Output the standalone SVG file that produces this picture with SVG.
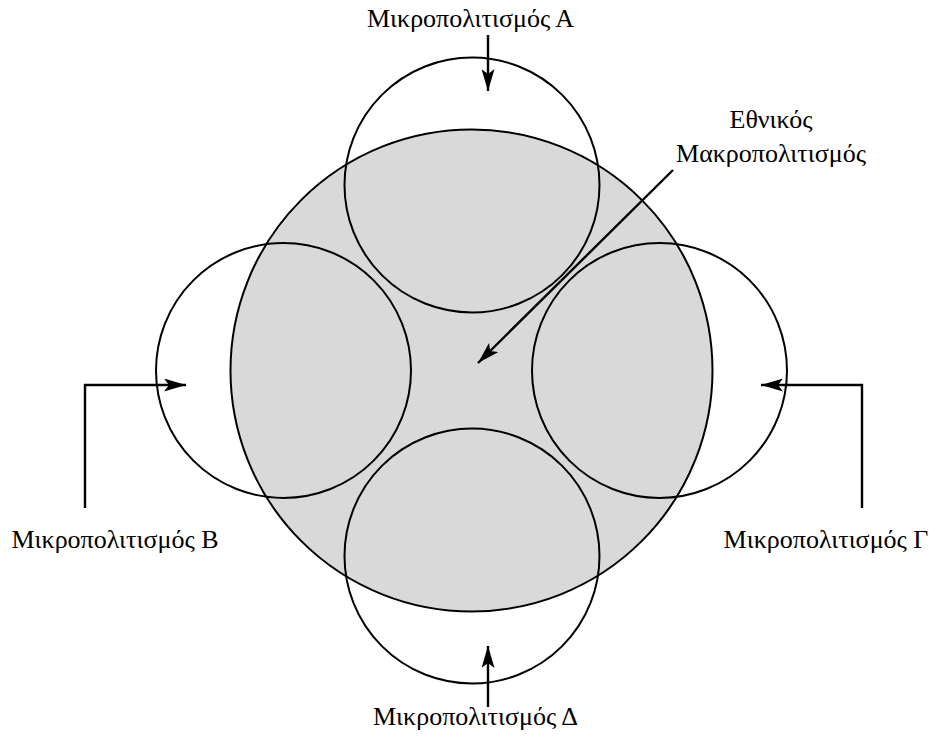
<svg xmlns="http://www.w3.org/2000/svg" width="936" height="738" viewBox="0 0 936 738">
<defs>
<marker id="ah" markerUnits="userSpaceOnUse" markerWidth="22" markerHeight="13" viewBox="0 0 22 13" refX="22" refY="6.5" orient="auto">
<path d="M0,0 L22,6.5 L0,13 L5,6.5 Z" fill="#000"/>
</marker>
</defs>
<style>
.c{fill:none;stroke:#000;stroke-width:2}
.big{fill:#d9d9d9;stroke:#000;stroke-width:2}
.a{fill:none;stroke:#000;stroke-width:2.4;marker-end:url(#ah)}
text{font-family:"Liberation Serif","Times New Roman",serif;font-size:26px;fill:#000;text-anchor:middle}
</style>
<g id="national">
<circle class="big" cx="471.5" cy="370.5" r="241"/>
</g>
<g id="microA"><circle class="c" cx="472" cy="185" r="127.5"/></g>
<g id="microB"><circle class="c" cx="283.5" cy="370.5" r="127.5"/></g>
<g id="microG"><circle class="c" cx="659.5" cy="370.5" r="127.5"/></g>
<g id="microD"><circle class="c" cx="472" cy="556" r="127.5"/></g>
<g id="connectors">
<path class="a" d="M488,35 L488,91"/>
<path class="a" d="M85,508 L85,385 L186,385"/>
<path class="a" d="M862,508 L862,385 L761,385"/>
<path class="a" d="M488,707 L488,646"/>
<path class="a" d="M673,170 L478,363"/>
</g>
<g id="labels">
<text x="470.5" y="27">Μικροπολιτισμός Α</text>
<text x="115" y="548">Μικροπολιτισμός Β</text>
<text x="826" y="548">Μικροπολιτισμός Γ</text>
<text x="475.5" y="725">Μικροπολιτισμός Δ</text>
<text x="771" y="128">Εθνικός</text>
<text x="771" y="162">Μακροπολιτισμός</text>
</g>
</svg>
